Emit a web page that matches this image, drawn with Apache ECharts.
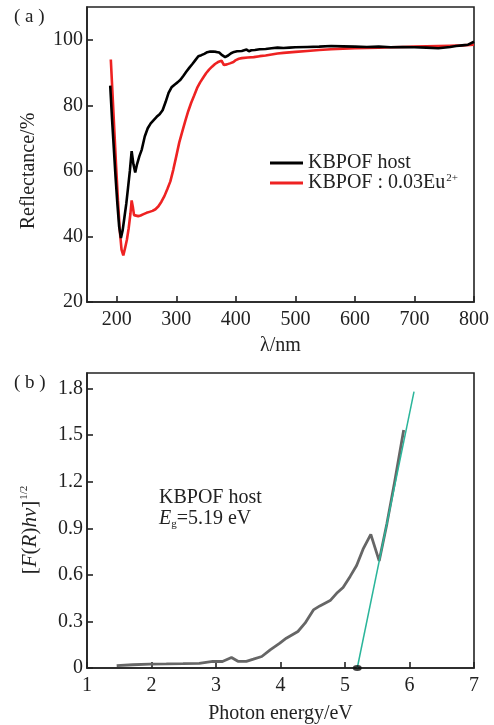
<!DOCTYPE html>
<html>
<head>
<meta charset="utf-8">
<script src="https://cdn.jsdelivr.net/npm/echarts@6/dist/echarts.min.js"></script>
<style>
  html, body { margin: 0; padding: 0; background: #fff; }
  #chart { width: 494px; height: 725px; }
</style>
</head>
<body>
<div id="chart"></div>
<script>
// (a) Diffuse reflectance spectra
const hostWl = [189, 192, 195, 198, 201, 204, 207, 210, 213, 216, 219, 222, 225, 228, 231, 234, 238, 242, 247, 252, 257, 262, 267, 272, 277, 282, 287, 292, 297, 302, 307, 312, 317, 322, 327, 332, 337, 342, 347, 352, 357, 362, 367, 372, 377, 382, 387, 392, 397, 402, 410, 418, 422, 426, 432, 440, 450, 460, 470, 480, 490, 500, 520, 540, 560, 580, 600, 620, 640, 660, 680, 700, 720, 740, 760, 770, 780, 790, 800];
const hostR = [86, 76, 67, 58, 50, 43, 39.5, 42, 46, 50, 55, 60, 66, 62, 59.5, 62, 64.5, 66.5, 70.5, 73, 74.5, 75.5, 76.5, 77.3, 78.5, 81, 83.8, 85.5, 86.3, 87, 87.8, 89, 90.3, 91.5, 92.6, 93.8, 95, 95.3, 95.7, 96.2, 96.4, 96.4, 96.3, 96.1, 95.3, 94.7, 95.2, 95.9, 96.3, 96.5, 96.6, 97, 96.5, 96.8, 96.9, 97.1, 97.2, 97.4, 97.6, 97.5, 97.6, 97.7, 97.8, 97.9, 98.1, 98, 97.9, 97.8, 97.9, 97.7, 97.8, 97.7, 97.6, 97.4, 97.8, 98.1, 98.3, 98.5, 99.4];

const euWl = [190, 193, 196, 199, 202, 205, 208, 211, 214, 217, 220, 223, 225, 227, 229, 232, 236, 240, 245, 250, 255, 260, 265, 270, 275, 280, 285, 290, 295, 300, 305, 310, 315, 320, 325, 330, 335, 340, 345, 350, 355, 360, 365, 370, 376, 380, 385, 390, 393, 396, 400, 405, 410, 420, 430, 440, 450, 460, 470, 480, 500, 520, 540, 560, 580, 600, 620, 640, 660, 680, 700, 720, 740, 760, 780, 800];
const euR = [94, 83, 72, 61, 51, 42, 36, 34.2, 36.5, 39, 42.5, 47, 51, 49, 46.5, 46, 46.2, 46.4, 46.8, 47.2, 47.5, 47.8, 48.3, 49.2, 50.6, 52.3, 54.5, 56.8, 60.4, 64.5, 68.7, 72, 75.2, 78.2, 80.8, 83, 85.3, 87, 88.4, 89.8, 90.9, 91.8, 92.6, 93.2, 93.6, 92.3, 92.5, 92.8, 92.3, 93.2, 93.8, 94.2, 94.4, 94.6, 94.7, 95, 95.2, 95.5, 95.8, 96, 96.3, 96.6, 96.9, 97.1, 97.3, 97.4, 97.5, 97.6, 97.7, 97.8, 97.9, 98, 98.1, 98.2, 98.3, 98.5];

const wlTicks = [200, 300, 400, 500, 600, 700, 800];
const reflTicks = [20, 40, 60, 80, 100];

// (b) Kubelka-Munk plot and band-gap extrapolation
const photonE = [1.46, 1.71, 1.97, 2.23, 2.49, 2.74, 2.95, 3.1, 3.24, 3.34, 3.47, 3.58, 3.71, 3.84, 3.99, 4.09, 4.27, 4.38, 4.51, 4.61, 4.77, 4.87, 4.97, 5.08, 5.18, 5.28, 5.40, 5.53, 5.65, 5.77, 5.91];
const kmValue = [0.015, 0.021, 0.025, 0.026, 0.028, 0.03, 0.042, 0.042, 0.068, 0.043, 0.043, 0.057, 0.074, 0.117, 0.16, 0.192, 0.235, 0.289, 0.374, 0.4, 0.434, 0.481, 0.519, 0.59, 0.66, 0.765, 0.861, 0.69, 0.93, 1.2, 1.533];
const fitE = [5.19, 6.07];
const fitV = [0, 1.78];
const bandGap = 5.19;

const energyTicks = [1, 2, 3, 4, 5, 6, 7];
const kmTicks = [0, 0.3, 0.6, 0.9, 1.2, 1.5, 1.8];

const seriesNames = ['KBPOF host', 'KBPOF : 0.03Eu'];

const FONT = 'Liberation Serif';
const INK = '#222';
const FS = 20;

const zip = (xs, ys) => xs.map((x, i) => [x, ys[i]]);

function axisCommon() {
  return {
    axisLine: { show: true, onZero: false, lineStyle: { color: INK, width: 1.6 } },
    axisTick: { show: true, inside: true, length: 6, lineStyle: { color: INK, width: 1.6 } },
    splitLine: { show: false },
    axisLabel: { color: INK, fontFamily: FONT, fontSize: FS }
  };
}

const chart = echarts.init(document.getElementById('chart'), null, { renderer: 'canvas' });

const xA = axisCommon();
xA.axisTick.customValues = wlTicks;
xA.axisLabel.customValues = wlTicks;
xA.axisLabel.margin = 8;
const yA = axisCommon();
yA.axisTick.customValues = reflTicks;
yA.axisLabel.customValues = reflTicks;
yA.axisLabel.margin = 4;
const xB = axisCommon();
xB.axisTick.customValues = energyTicks;
xB.axisLabel.customValues = energyTicks;
xB.axisLabel.margin = 8;
const yB = axisCommon();
yB.axisTick.customValues = kmTicks;
yB.axisLabel.customValues = kmTicks;
yB.axisLabel.margin = 4;
yB.axisLabel.formatter = v => (v === 0 ? '0' : v.toFixed(1));

chart.setOption({
  animation: false,
  backgroundColor: '#fff',
  grid: [
    { left: 87, right: 20, top: 7, height: 295, show: true, borderColor: INK, borderWidth: 1.6, backgroundColor: 'transparent' },
    { left: 87, right: 20, top: 373, height: 295, show: true, borderColor: INK, borderWidth: 1.6, backgroundColor: 'transparent' }
  ],
  xAxis: [
    Object.assign({
      type: 'value', gridIndex: 0, min: 150, max: 800,
      name: 'λ/nm', nameLocation: 'middle', nameGap: 34,
      nameTextStyle: { color: INK, fontFamily: FONT, fontSize: FS }
    }, xA),
    Object.assign({
      type: 'value', gridIndex: 1, min: 1, max: 7, interval: 1,
      name: 'Photon energy/eV', nameLocation: 'middle', nameGap: 36,
      nameTextStyle: { color: INK, fontFamily: FONT, fontSize: FS }
    }, xB)
  ],
  yAxis: [
    Object.assign({ type: 'value', gridIndex: 0, min: 20, max: 110 }, yA),
    Object.assign({ type: 'value', gridIndex: 1, min: 0, max: 1.9 }, yB)
  ],
  legend: {
    orient: 'vertical',
    left: 270,
    top: 153,
    padding: 0,
    itemGap: 0,
    itemWidth: 33,
    itemHeight: 3,
    icon: 'rect',
    data: seriesNames,
    formatter: name => name.indexOf('Eu') >= 0 ? '{t|' + name + '}{sup|2+}' : '{t|' + name + '}',
    textStyle: {
      color: INK,
      fontFamily: FONT,
      fontSize: FS,
      lineHeight: 20,
      rich: {
        t: { fontFamily: FONT, fontSize: FS, color: INK, lineHeight: 20 },
        sup: { fontFamily: FONT, fontSize: 11, color: INK, verticalAlign: 'top', lineHeight: 20, padding: [0, 0, 8, 1] }
      }
    }
  },
  series: [
    {
      name: seriesNames[0], type: 'line', xAxisIndex: 0, yAxisIndex: 0,
      data: zip(hostWl, hostR), showSymbol: false, symbol: 'none',
      lineStyle: { color: '#000', width: 2.6 }, itemStyle: { color: '#000' }, z: 3
    },
    {
      name: seriesNames[1], type: 'line', xAxisIndex: 0, yAxisIndex: 0,
      data: zip(euWl, euR), showSymbol: false, symbol: 'none',
      lineStyle: { color: '#ee2222', width: 2.6 }, itemStyle: { color: '#ee2222' }, z: 2
    },
    {
      name: 'KM', type: 'line', xAxisIndex: 1, yAxisIndex: 1,
      data: zip(photonE, kmValue), showSymbol: false, symbol: 'none',
      lineStyle: { color: '#666', width: 2.8 }, z: 2
    },
    {
      name: 'fit', type: 'line', xAxisIndex: 1, yAxisIndex: 1,
      data: zip(fitE, fitV), showSymbol: false, symbol: 'none',
      lineStyle: { color: '#2ab59a', width: 1.5 }, z: 3
    },
    {
      name: 'Eg', type: 'scatter', xAxisIndex: 1, yAxisIndex: 1,
      data: [[bandGap, 0]], symbol: 'circle', symbolSize: [9, 6],
      itemStyle: { color: '#111' }, z: 4
    }
  ],
  graphic: [
    { type: 'text', left: 14, top: 8, style: { text: '( a )', fontFamily: FONT, fontSize: 19, fill: INK } },
    { type: 'text', left: 14, top: 374, style: { text: '( b )', fontFamily: FONT, fontSize: 19, fill: INK } },
    {
      type: 'text', x: 29, y: 171, rotation: Math.PI / 2,
      style: { text: 'Reflectance/%', fontFamily: FONT, fontSize: FS, fill: INK, align: 'center', verticalAlign: 'middle' }
    },
    {
      type: 'text', x: 30, y: 530, rotation: Math.PI / 2,
      style: {
        text: '{n|[}{i|F}{n|(}{i|R}{n|)}{i|hν}{n|]}{s|1/2}',
        align: 'center', verticalAlign: 'middle',
        rich: {
          n: { fontFamily: FONT, fontSize: 21, fill: INK, lineHeight: 22 },
          i: { fontFamily: FONT, fontSize: 21, fontStyle: 'italic', fill: INK, lineHeight: 22 },
          s: { fontFamily: FONT, fontSize: 11, fill: INK, verticalAlign: 'top', lineHeight: 22, padding: [0, 0, 10, 1] }
        }
      }
    },
    {
      type: 'text', left: 159, top: 488,
      style: { text: 'KBPOF host', fontFamily: FONT, fontSize: FS, fill: INK }
    },
    {
      type: 'text', left: 159, top: 509,
      style: {
        text: '{i|E}{sub|g}{n|=5.19 eV}',
        rich: {
          i: { fontFamily: FONT, fontSize: FS, fontStyle: 'italic', fill: INK, lineHeight: 22 },
          sub: { fontFamily: FONT, fontSize: 11, fill: INK, verticalAlign: 'bottom', lineHeight: 22, padding: [6, 0, 0, 0] },
          n: { fontFamily: FONT, fontSize: FS, fill: INK, lineHeight: 22 }
        }
      }
    }
  ]
});
</script>
</body>
</html>
